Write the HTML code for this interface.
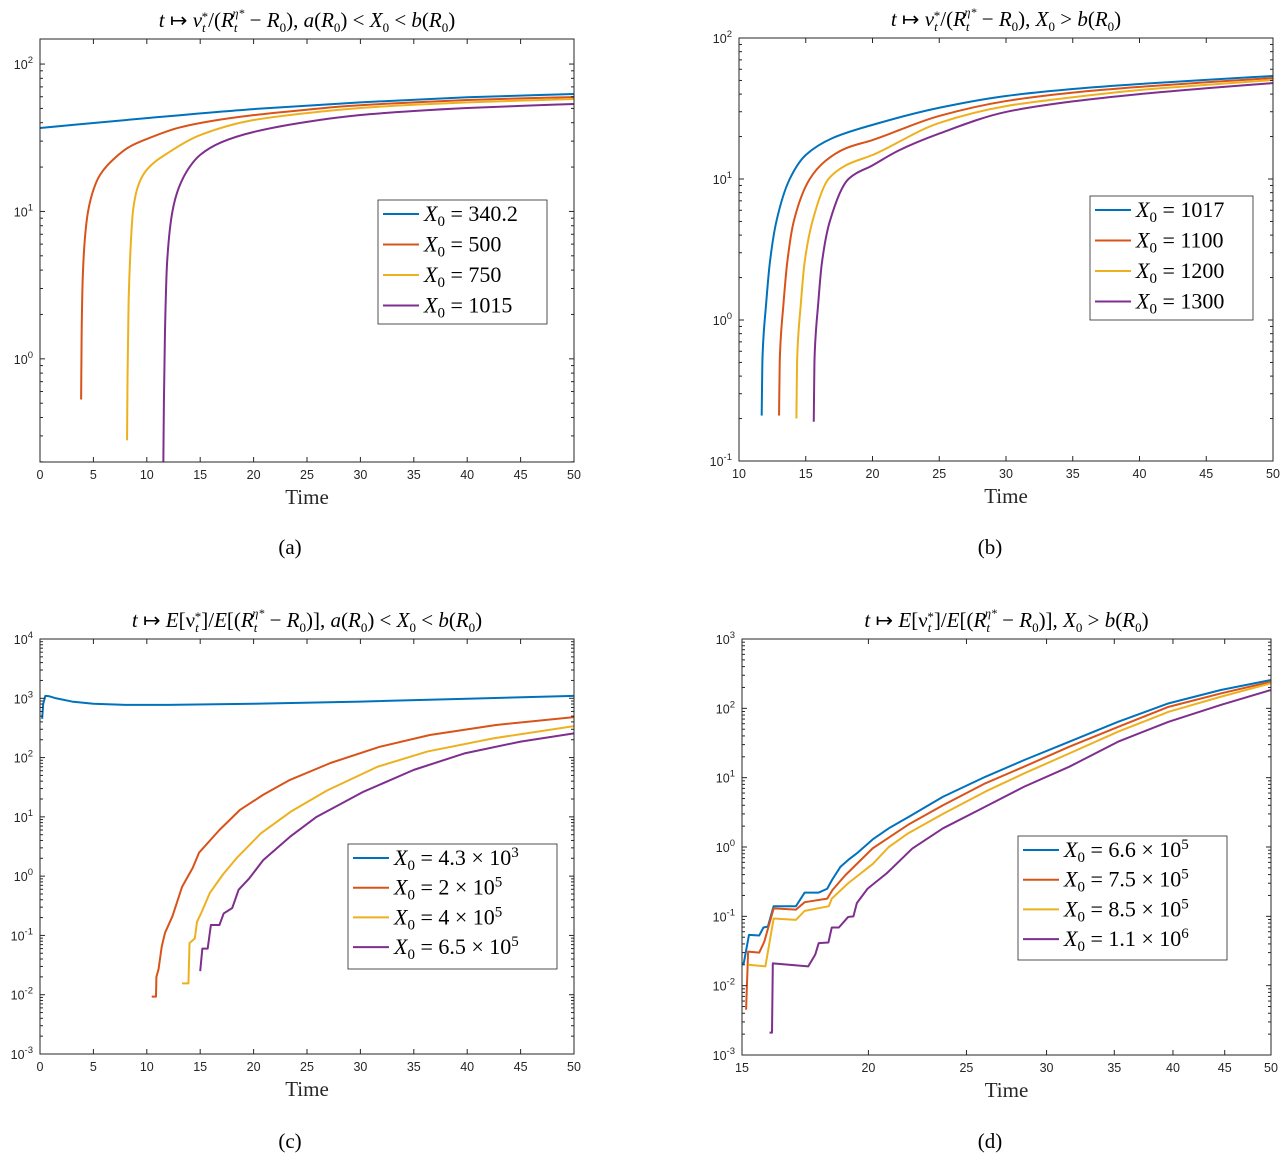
<!DOCTYPE html>
<html><head><meta charset="utf-8">
<style>
html,body{margin:0;padding:0;background:#fff;}
svg{display:block;font-family:"Liberation Serif",serif;}
.tick{font-family:"Liberation Sans",sans-serif;font-size:12.5px;fill:#262626;}
</style></head>
<body>
<svg id="fig" width="1287" height="1161" viewBox="0 0 1287 1161" xmlns="http://www.w3.org/2000/svg"></svg>
<script>
// ---------- Panel (a) data ----------
const aBlueT=[0,10,20,30,40,50];
const aBlueV=[36.8,43,49.5,55,59.5,62.7];
const aOrangeT=[3.85,3.9,4.0,4.2,4.5,5.0,5.6,7,8.4,10,13,16,20,25,29,35,40,45,50];
const aOrangeV=[0.53,1.5,3.5,6.5,10,14,17.6,23,27.5,31,37,41,45,49,52,55,57,58.5,59.7];
const aYellowT=[8.15,8.2,8.3,8.5,8.7,9.2,10,12,15,20,25,30,35,40,45,50];
const aYellowV=[0.28,0.8,2.5,6,10,15,19.2,25,33,41.7,46.5,50.3,53,55,56.5,57.9];
const aPurpleT=[11.55,11.6,11.7,11.9,12.4,13,14,15,17,20,25,30,35,40,45,50];
const aPurpleV=[0.2,0.5,1.5,4.5,10,14.5,20,24.2,29.5,34.6,40.5,45.1,48,50.3,52,53.6];
const aXTicks=[0,5,10,15,20,25,30,35,40,45,50];
const aYTicks=[0,1,2];
// ---------- Panel (b) data ----------
const bBlueT=[11.7,11.75,11.85,12.0,12.3,12.8,13.8,15,17,20,25,30,35,40,45,50];
const bBlueV=[0.21,0.5,0.8,1.2,2.5,5,10,14.8,19.5,24.2,32,38.8,43.5,47.2,50.5,53.8];
const bOrangeT=[13.0,13.05,13.15,13.3,13.6,14.1,15.3,16.5,18,20,25,30,35,40,45,50];
const bOrangeV=[0.21,0.5,0.8,1.2,2.5,5,10,13.5,16.5,18.9,28,35.7,41,45,48.5,52];
const bYellowT=[14.3,14.35,14.45,14.6,14.9,15.5,16.7,18,20,25,30,35,40,45,50];
const bYellowV=[0.2,0.5,0.8,1.2,2.5,5,10,12.5,14.8,25,32.9,38,42.8,46.5,50.4];
const bPurpleT=[15.6,15.65,15.75,15.9,16.2,16.8,18.2,20,22,25,30,35,40,45,50];
const bPurpleV=[0.19,0.5,0.8,1.2,2.5,5,10,12.5,16,21,29.9,35.5,40,44,47.9];
const bXTicks=[10,15,20,25,30,35,40,45,50];
const bYTicks=[-1,0,1,2];
// ---------- Panel (c) data ----------
const cBlueT=[0.2,0.3,0.5,0.8,1.5,3,5,8,12,20,30,40,50];
const cBlueV=[450,800,1100,1090,1000,880,810,775,775,810,880,980,1100];
const cOrangeT=[10.46,10.86,10.9,11.1,11.4,11.7,12.4,13.3,14.3,14.9,16.8,18.7,20.9,23.4,27.2,31.8,36.5,42.7,50];
const cOrangeV=[0.0093,0.0093,0.020,0.027,0.065,0.11,0.21,0.66,1.38,2.5,6.0,13,23.6,42,81,152,240,355,480];
const cYellowT=[13.3,13.9,14.0,14.5,14.7,15.1,15.9,17.1,18.5,20.7,23.5,26.9,31.6,36.3,42.5,50];
const cYellowV=[0.0155,0.0155,0.074,0.089,0.17,0.24,0.52,1.05,2.1,5.3,12.3,28,70,127,212,340];
const cPurpleT=[15.0,15.2,15.7,16.0,16.8,17.2,18.0,18.6,19.6,20.9,23.4,25.9,30.3,35.0,39.7,45.0,50];
const cPurpleV=[0.025,0.06,0.06,0.15,0.15,0.235,0.29,0.59,0.92,1.86,4.6,10,26.6,62,117,186,256];
const cXTicks=[0,5,10,15,20,25,30,35,40,45,50];
const cYTicks=[-3,-2,-1,0,1,2,3,4];
// ---------- Panel (d) data ----------
const dBlueT=[15,15.06,15.24,15.6,15.75,15.91,16.12,16.96,17.3,17.86,18.21,18.4,18.77,19.1,19.48,20.2,20.95,21.9,23.7,26.1,28.5,31.6,35.3,39.6,44.6,50];
const dBlueV=[0.021,0.021,0.054,0.053,0.069,0.071,0.14,0.14,0.22,0.22,0.25,0.33,0.52,0.65,0.81,1.29,1.86,2.7,5.3,10.3,17.9,33,64,118,184,256];
const dOrangeT=[15.14,15.21,15.6,15.78,16.12,16.96,17.3,18.21,18.43,18.97,20.2,21.9,23.7,26.1,28.5,31.6,35.3,39.6,44.6,50];
const dOrangeV=[0.0045,0.031,0.030,0.043,0.13,0.125,0.16,0.18,0.24,0.39,0.96,2.1,4.0,8.3,14.4,28,54,105,164,242];
const dYellowT=[15.21,15.82,16.12,16.96,17.3,18.28,18.4,19.1,20.2,20.95,21.9,23.7,26.1,28.5,31.6,35.3,39.6,44.6,50];
const dYellowV=[0.020,0.019,0.093,0.089,0.12,0.14,0.18,0.30,0.57,1.0,1.58,3.0,6.3,11.5,22.4,46,89,147,230];
const dPurpleT=[15.97,16.06,16.09,17.44,17.72,17.86,18.26,18.4,18.7,19.1,19.33,19.48,19.96,20.86,22.1,23.7,25.7,28.5,31.6,35.3,39.6,44.6,50];
const dPurpleV=[0.0021,0.0021,0.021,0.019,0.028,0.041,0.042,0.069,0.069,0.098,0.10,0.155,0.25,0.42,0.95,1.86,3.4,7.4,14.4,33,64,112,184];
const dXTicks=[15,20,25,30,35,40,45,50];
const dYTicks=[-3,-2,-1,0,1,2,3];

const NS="http://www.w3.org/2000/svg";
const svg=document.getElementById('fig');
const COLORS=['#0072BD','#D95319','#EDB120','#7E2F8E'];
const SNAMES=['blue','orange','yellow','purple'];
function mk(tag,attrs,parent){const e=document.createElementNS(NS,tag);for(const k in attrs)e.setAttribute(k,attrs[k]);(parent||svg).appendChild(e);return e;}

// monotone cubic (Fritsch-Carlson) through pixel points, x increasing
function smoothPath(P){
  const n=P.length;if(n<3)return P.map((p,i)=>(i?'L':'M')+p[0]+','+p[1]).join(' ');
  const dx=[],s=[];
  for(let i=0;i<n-1;i++){dx.push(Math.max(P[i+1][0]-P[i][0],1e-6));s.push((P[i+1][1]-P[i][1])/dx[i]);}
  const m=[s[0]];
  for(let i=1;i<n-1;i++){m.push(s[i-1]*s[i]<=0?0:(3*(dx[i-1]+dx[i]))/((2*dx[i]+dx[i-1])/s[i-1]+(dx[i]+2*dx[i-1])/s[i]));}
  m.push(s[n-2]);
  let d='M'+P[0][0].toFixed(2)+','+P[0][1].toFixed(2);
  for(let i=0;i<n-1;i++){
    const h=dx[i]/3;
    d+=' C'+(P[i][0]+h).toFixed(2)+','+(P[i][1]+m[i]*h).toFixed(2)+' '+(P[i+1][0]-h).toFixed(2)+','+(P[i+1][1]-m[i+1]*h).toFixed(2)+' '+P[i+1][0].toFixed(2)+','+P[i+1][1].toFixed(2);
  }
  return d;
}

function panel(p){
  const g=mk('g',{});
  
  
  const xs=p.xlog?(v=>p.x0+(Math.log10(v)-Math.log10(p.xmin))/(Math.log10(p.xmax)-Math.log10(p.xmin))*(p.x1-p.x0))
                 :(v=>p.x0+(v-p.xmin)/(p.xmax-p.xmin)*(p.x1-p.x0));
  const ys=v=>p.y1-(Math.log10(v)-p.ymin)/(p.ymax-p.ymin)*(p.y1-p.y0);
  const cid='clip-'+p.id;
  const cp=mk('clipPath',{id:cid},g);mk('rect',{x:p.x0,y:p.y0,width:p.x1-p.x0,height:p.y1-p.y0},cp);
  const sg=mk('g',{'clip-path':'url(#'+cid+')'},g);
  p.series.forEach((s,i)=>{
    const pts=s.t.map((t,j)=>[xs(t),ys(s.v[j])]);
    const d=p.smooth?smoothPath(pts):pts.map((q,j)=>(j?'L':'M')+q[0].toFixed(2)+','+q[1].toFixed(2)).join(' ');
    const path=mk('path',{d:d,fill:'none',stroke:COLORS[i],'stroke-width':2,'stroke-linejoin':'round'},sg);
    
    
  });
  const box=mk('rect',{x:p.x0,y:p.y0,width:p.x1-p.x0,height:p.y1-p.y0,fill:'none',stroke:'#262626','stroke-width':1},g);
  
  
  p.xticks.forEach(t=>{
    const x=xs(t);
    mk('line',{x1:x,x2:x,y1:p.y1,y2:p.y1-5,stroke:'#262626'},g);
    mk('line',{x1:x,x2:x,y1:p.y0,y2:p.y0+5,stroke:'#262626'},g);
    const tx=mk('text',{x:x,y:p.y1+17,'text-anchor':'middle',class:'tick'},g);
    tx.textContent=t;
    
    
  });
  for(let e=Math.floor(p.ymin);e<=Math.ceil(p.ymax);e++){
    for(let k=1;k<=9;k++){
      const lv=e+Math.log10(k);
      if(lv<p.ymin-1e-6||lv>p.ymax+1e-6)continue;
      const y=ys(Math.pow(10,lv));const L=k===1?5:3;
      mk('line',{x1:p.x0,x2:p.x0+L,y1:y,y2:y,stroke:'#262626'},g);
      mk('line',{x1:p.x1,x2:p.x1-L,y1:y,y2:y,stroke:'#262626'},g);
    }
  }
  p.yticks.forEach(e=>{
    const y=ys(Math.pow(10,e));
    const tx=mk('text',{x:p.x0-7,y:y+5,'text-anchor':'end',class:'tick'},g);
    
    
    const a=mk('tspan',{},tx);a.textContent='10';
    const b=mk('tspan',{dy:-6,'font-size':9.5},tx);b.textContent=String(e);
  });
  const xl=mk('text',{x:(p.x0+p.x1)/2,y:p.y1+42,'text-anchor':'middle','font-size':21,fill:'#262626'},g);
  xl.textContent='Time';
  
  
  const cap=mk('text',{x:p.capx,y:p.capy,'text-anchor':'middle','font-size':21,fill:'#000'},g);
  cap.textContent='('+p.id+')';
  
  
  const ti=mk('text',{x:(p.x0+p.x1)/2,y:p.y0-12,'text-anchor':'middle','font-size':21,fill:'#000'},g);
  
  
  p.title.forEach(part=>{const s=mk('tspan',part.a||{},ti);s.textContent=part.s;});
  const L=p.legend;
  const lb=mk('rect',{x:L.x,y:L.y,width:L.w,height:L.h,fill:'#fff',stroke:'#262626','stroke-width':0.8},g);
  
  
  L.labels.forEach((lab,i)=>{
    const yy=L.y+14+i*L.dy;
    mk('line',{x1:L.x+5,x2:L.x+41,y1:yy,y2:yy,stroke:COLORS[i],'stroke-width':2},g);
    const t=mk('text',{x:L.x+46,y:yy+7,'font-size':22,fill:'#000'},g);
    
    
    const a=mk('tspan',{'font-style':'italic'},t);a.textContent='X';
    const b=mk('tspan',{dy:5,'font-size':15},t);b.textContent='0';
    const c=mk('tspan',{dy:-5},t);c.textContent=' = '+lab[0];
    if(lab[1]){const d=mk('tspan',{dy:-8,'font-size':15},t);d.textContent=lab[1];}
  });
}
const it={'font-style':'italic'};
function titleParts(prefix,suffix){
  const arr=[{s:'t',a:it},{s:' ↦ '}];
  prefix.forEach(x=>arr.push(x));
  arr.push({s:'(',a:{}});
  arr.push({s:'R',a:it});arr.push({s:'t',a:{'font-style':'italic','font-size':13,dy:5}});
  arr.push({s:'η*',a:{'font-style':'italic','font-size':12,dy:-15,dx:-5}});
  arr.push({s:' − ',a:{dy:10}});arr.push({s:'R',a:it});arr.push({s:'0',a:{'font-size':13,dy:5}});
  suffix.forEach(x=>arr.push(x));
  return arr;
}
const sufA=[{s:'), ',a:{dy:-5}},{s:'a',a:it},{s:'('},{s:'R',a:it},{s:'0',a:{'font-size':13,dy:5}},{s:') < ',a:{dy:-5}},{s:'X',a:it},{s:'0',a:{'font-size':13,dy:5}},{s:' < ',a:{dy:-5}},{s:'b',a:it},{s:'('},{s:'R',a:it},{s:'0',a:{'font-size':13,dy:5}},{s:')',a:{dy:-5}}];
const sufB=[{s:'), ',a:{dy:-5}},{s:'X',a:it},{s:'0',a:{'font-size':13,dy:5}},{s:' > ',a:{dy:-5}},{s:'b',a:it},{s:'('},{s:'R',a:it},{s:'0',a:{'font-size':13,dy:5}},{s:')',a:{dy:-5}}];
const preNu=[{s:'ν',a:it},{s:'t',a:{'font-style':'italic','font-size':13,dy:5}},{s:'*',a:{'font-size':13,dy:-11,dx:-4}},{s:'/',a:{dy:6}}];
const preE=[{s:'E',a:it},{s:'[ν',a:{}},{s:'t',a:{'font-style':'italic','font-size':13,dy:5}},{s:'*',a:{'font-size':13,dy:-11,dx:-4}},{s:']/',a:{dy:6}},{s:'E',a:it},{s:'[',a:{}}];
const sufAc=[{s:')], ',a:{dy:-5}}].concat(sufA.slice(1));
const sufBd=[{s:')], ',a:{dy:-5}}].concat(sufB.slice(1));

panel({id:'a',smooth:true,x0:40,x1:574,y0:39,y1:462,xmin:0,xmax:50,ymin:-0.70,ymax:2.17,xticks:aXTicks,yticks:aYTicks,capx:290,capy:554,
  series:[{t:aBlueT,v:aBlueV},{t:aOrangeT,v:aOrangeV},{t:aYellowT,v:aYellowV},{t:aPurpleT,v:aPurpleV}],
  title:titleParts(preNu,sufA),
  legend:{x:378,y:200,w:169,h:124,dy:30.5,labels:[['340.2'],['500'],['750'],['1015']]}});
panel({id:'b',smooth:true,x0:739,x1:1273,y0:38,y1:461,xmin:10,xmax:50,ymin:-1,ymax:2,xticks:bXTicks,yticks:bYTicks,capx:990,capy:554,
  series:[{t:bBlueT,v:bBlueV},{t:bOrangeT,v:bOrangeV},{t:bYellowT,v:bYellowV},{t:bPurpleT,v:bPurpleV}],
  title:titleParts(preNu,sufB),
  legend:{x:1090,y:196,w:163,h:124,dy:30.5,labels:[['1017'],['1100'],['1200'],['1300']]}});
panel({id:'c',x0:40,x1:574,y0:639,y1:1054,xmin:0,xmax:50,ymin:-3,ymax:4,xticks:cXTicks,yticks:cYTicks,capx:290,capy:1148,
  series:[{t:cBlueT,v:cBlueV},{t:cOrangeT,v:cOrangeV},{t:cYellowT,v:cYellowV},{t:cPurpleT,v:cPurpleV}],
  title:titleParts(preE,sufAc),
  legend:{x:348,y:844,w:209,h:125,dy:29.7,labels:[['4.3 × 10','3'],['2 × 10','5'],['4 × 10','5'],['6.5 × 10','5']]}});
panel({id:'d',x0:742,x1:1271,y0:639,y1:1055,xmin:15,xmax:50,xlog:true,ymin:-3,ymax:3,xticks:dXTicks,yticks:dYTicks,capx:990,capy:1148,
  series:[{t:dBlueT,v:dBlueV},{t:dOrangeT,v:dOrangeV},{t:dYellowT,v:dYellowV},{t:dPurpleT,v:dPurpleV}],
  title:titleParts(preE,sufBd),
  legend:{x:1018,y:836,w:209,h:124,dy:29.7,labels:[['6.6 × 10','5'],['7.5 × 10','5'],['8.5 × 10','5'],['1.1 × 10','6']]}});
</script>
</body></html>
